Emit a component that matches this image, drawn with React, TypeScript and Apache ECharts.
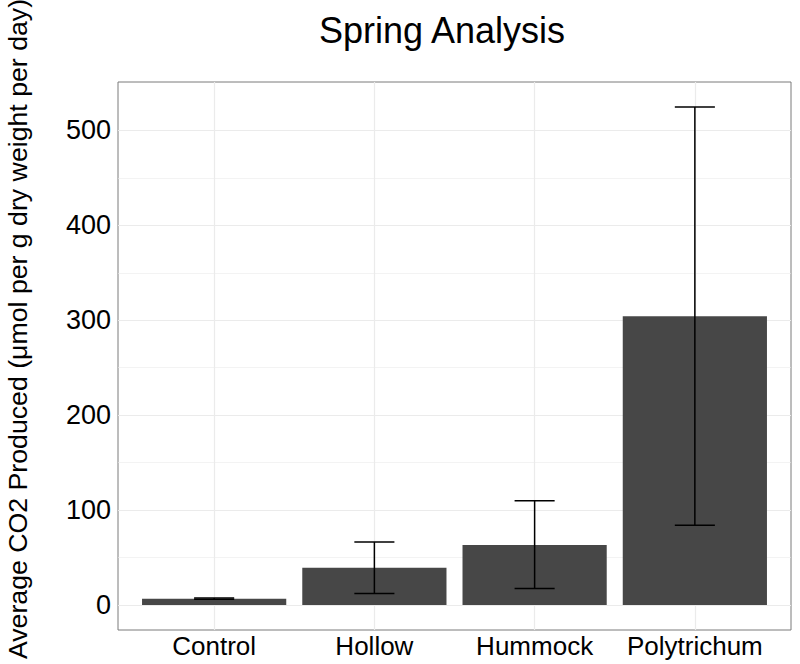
import React, { useEffect, useRef } from "react";
import * as echarts from "echarts";

const categories = ["Control", "Hollow", "Hummock", "Polytrichum"];
const means = [6.8, 39.3, 63.3, 304.3];
const lowers = [6.3, 12.3, 17.5, 84.0];
const uppers = [7.5, 66.4, 110.0, 524.7];
const yMajorTicks = [0, 100, 200, 300, 400, 500];
const yMinorTicks = [50, 150, 250, 350, 450];
const xPositions = [0, 1, 2, 3];

const Y_MIN = -26.2;
const Y_MAX = 550.9;
const X_MIN = -0.6;
const X_MAX = 3.6;
const BAR_WIDTH = 0.9;
const CAP_WIDTH = 0.25;
const FONT = "'Liberation Sans', Arial, sans-serif";

export default function App() {
  const ref = useRef<HTMLDivElement>(null);
  useEffect(() => {
    if (!ref.current) return;
    const chart = echarts.init(ref.current, undefined, { renderer: "svg" });
    const barData = categories.map((_, i) => [xPositions[i], means[i]]);
    const errData = categories.map((_, i) => [xPositions[i], lowers[i], uppers[i]]);
    chart.setOption({
      animation: false,
      backgroundColor: "#ffffff",
      textStyle: { fontFamily: FONT },
      grid: {
        left: 118,
        right: 9,
        top: 82,
        bottom: 34,
        show: true,
        borderColor: "#7a7a7a",
        borderWidth: 1,
        backgroundColor: "#ffffff",
      },
      xAxis: {
        type: "value",
        min: X_MIN,
        max: X_MAX,
        axisLine: { show: false },
        splitLine: { show: false },
        axisTick: {
          show: true,
          customValues: xPositions,
          length: 4,
          lineStyle: { color: "#555555", width: 1 },
        },
        axisLabel: {
          customValues: xPositions,
          formatter: (v: number) => categories[Math.round(v)] ?? "",
          color: "#000000",
          fontSize: 26,
          fontFamily: FONT,
          margin: 3,
        },
      },
      yAxis: {
        type: "value",
        min: Y_MIN,
        max: Y_MAX,
        axisLine: { show: false },
        splitLine: { show: false },
        axisTick: {
          show: true,
          customValues: yMajorTicks,
          length: 4,
          lineStyle: { color: "#555555", width: 1 },
        },
        axisLabel: {
          customValues: yMajorTicks,
          color: "#000000",
          fontSize: 27,
          fontFamily: FONT,
          margin: 7,
        },
      },
      graphic: [
        {
          type: "text",
          x: 442,
          y: 30,
          style: {
            text: "Spring Analysis",
            fontSize: 36,
            fontFamily: FONT,
            fill: "#000000",
            textAlign: "center",
            textVerticalAlign: "middle",
          },
        },
        {
          type: "text",
          x: 18,
          y: 329,
          rotation: Math.PI / 2,
          style: {
            text: "Average CO2 Produced (μmol per g dry weight per day)",
            fontSize: 26.7,
            fontFamily: FONT,
            fill: "#000000",
            textAlign: "center",
            textVerticalAlign: "middle",
          },
        },
      ],
      series: [
        {
          type: "custom",
          z: 1,
          data: [],
          renderItem: () => ({ type: "group", children: [] }),
          markLine: {
            z: 1,
            silent: true,
            symbol: "none",
            label: { show: false },
            emphasis: { disabled: true },
            data: [
              ...yMinorTicks.map((v) => ({
                yAxis: v,
                lineStyle: { color: "#EBEBEB", width: 0.6, type: "solid" },
              })),
              ...yMajorTicks.map((v) => ({
                yAxis: v,
                lineStyle: { color: "#EBEBEB", width: 1.2, type: "solid" },
              })),
              ...xPositions.map((v) => ({
                xAxis: v,
                lineStyle: { color: "#EBEBEB", width: 1.2, type: "solid" },
              })),
            ],
          },
        },
        {
          type: "custom",
          z: 10,
          data: barData,
          renderItem: (params: any, api: any) => {
            const x = api.value(0);
            const y = api.value(1);
            const p0 = api.coord([x - BAR_WIDTH / 2, 0]);
            const p1 = api.coord([x + BAR_WIDTH / 2, y]);
            return {
              type: "rect",
              shape: {
                x: p0[0],
                y: p1[1],
                width: p1[0] - p0[0],
                height: p0[1] - p1[1],
              },
              style: { fill: "#474747" },
            };
          },
        },
        {
          type: "custom",
          z: 11,
          data: errData,
          renderItem: (params: any, api: any) => {
            const x = api.value(0);
            const lo = api.value(1);
            const hi = api.value(2);
            const top = api.coord([x, hi]);
            const bot = api.coord([x, lo]);
            const tl = api.coord([x - CAP_WIDTH / 2, hi]);
            const tr = api.coord([x + CAP_WIDTH / 2, hi]);
            const bl = api.coord([x - CAP_WIDTH / 2, lo]);
            const br = api.coord([x + CAP_WIDTH / 2, lo]);
            const st = { stroke: "#000000", lineWidth: 1.5 };
            return {
              type: "group",
              children: [
                { type: "line", shape: { x1: top[0], y1: top[1], x2: bot[0], y2: bot[1] }, style: st },
                { type: "line", shape: { x1: tl[0], y1: tl[1], x2: tr[0], y2: tr[1] }, style: st },
                { type: "line", shape: { x1: bl[0], y1: bl[1], x2: br[0], y2: br[1] }, style: st },
              ],
            };
          },
        },
      ],
    });
    return () => chart.dispose();
  }, []);
  return (
    <div
      ref={ref}
      style={{ position: "fixed", left: 0, top: 0, width: 800, height: 664 }}
    />
  );
}
